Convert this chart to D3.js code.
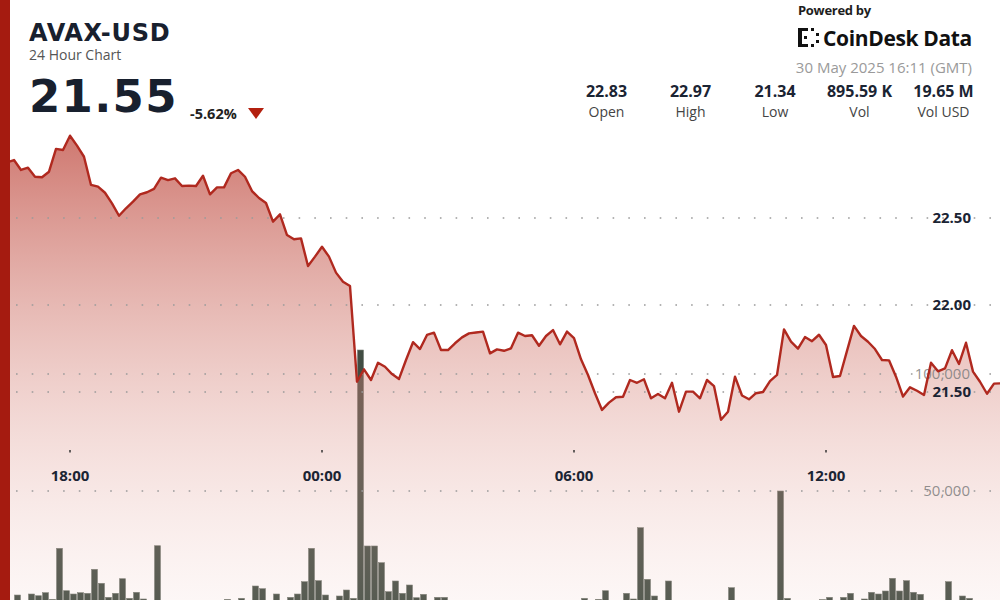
<!DOCTYPE html>
<html>
<head>
<meta charset="utf-8">
<script src="https://cdn.jsdelivr.net/npm/d3@7/dist/d3.min.js"></script>
<style>
  html, body { margin: 0; padding: 0; background: #fff; }
  svg { display: block; font-family: "Open Sans", "Noto Sans", sans-serif; }
</style>
</head>
<body>
<svg id="chart" width="1000" height="600"></svg>
<script>
// ---- Data (10-minute intervals, GMT) ----
const startTime = "2025-05-29T16:20:00Z";
const endTime = "2025-05-30T16:10:00Z";

const priceValues = [
  22.83, 22.82, 22.833, 22.776, 22.789, 22.737, 22.734, 22.766, 22.897, 22.891,
  22.973, 22.916, 22.852, 22.690, 22.680, 22.645, 22.584, 22.513, 22.556, 22.594,
  22.636, 22.648, 22.667, 22.732, 22.718, 22.728, 22.684, 22.686, 22.684, 22.743,
  22.636, 22.676, 22.676, 22.757, 22.776, 22.737, 22.655, 22.615, 22.586, 22.479,
  22.521, 22.402, 22.378, 22.383, 22.224, 22.278, 22.335, 22.278, 22.186, 22.134,
  22.109, 21.559, 21.630, 21.569, 21.668, 21.645, 21.603, 21.575, 21.684, 21.786,
  21.747, 21.828, 21.841, 21.741, 21.741, 21.780, 21.814, 21.837, 21.842, 21.847,
  21.722, 21.745, 21.737, 21.751, 21.841, 21.822, 21.826, 21.766, 21.822, 21.856,
  21.774, 21.847, 21.809, 21.688, 21.598, 21.493, 21.397, 21.439, 21.470, 21.473,
  21.569, 21.553, 21.573, 21.464, 21.489, 21.464, 21.553, 21.387, 21.502, 21.502,
  21.464, 21.569, 21.534, 21.340, 21.387, 21.588, 21.480, 21.458, 21.493, 21.500,
  21.563, 21.598, 21.860, 21.789, 21.749, 21.816, 21.792, 21.829, 21.770, 21.586,
  21.592, 21.736, 21.880, 21.822, 21.789, 21.747, 21.684, 21.682, 21.588, 21.474,
  21.527, 21.507, 21.483, 21.668, 21.619, 21.636, 21.740, 21.661, 21.783, 21.617,
  21.559, 21.490, 21.548, 21.550
];

const volumeValues = [
  2000, 1500, 5550, 2000, 5980, 5250, 6540, 3720, 25500, 7390,
  5980, 6540, 6280, 16540, 10560, 4570, 6280, 12520, 4150, 6710,
  3850, 1500, 26620, 1200, 2000, 1000, 1500, 2500, 1000, 1800,
  2200, 1500, 3700, 2000, 4150, 2500, 9400, 8250, 2000, 5980,
  2500, 4570, 5980, 11240, 25500, 11670, 5550, 3000, 5130, 7690,
  4150, 110250, 26500, 26500, 19360, 6970, 11540, 6280, 9830, 4400,
  5850, 2800, 4570, 4570, 3000, 2500, 1500, 2000, 1200, 2500,
  1000, 1800, 2200, 1500, 2600, 1200, 2000, 1000, 2400, 1500,
  2000, 1200, 2500, 4150, 2500, 3720, 7390, 2500, 3000, 6280,
  3850, 34320, 12260, 5130, 2800, 11540, 2000, 2500, 1500, 3000,
  2000, 1200, 2500, 1800, 8680, 2000, 1500, 2500, 1200, 2000,
  2200, 50000, 4150, 1500, 2000, 1200, 2500, 3600, 4570, 3000,
  4570, 6280, 3000, 3850, 6710, 5980, 7260, 12690, 7260, 11670,
  6710, 5850, 3000, 2500, 2000, 11240, 3000, 5130, 4150, 2000,
  1500, 2500, 2000, 1500
];

const priceTicks = [21.5, 22.0, 22.5];
const priceTickLabels = ["21.50", "22.00", "22.50"];
const volumeTicks = [50000, 100000];
const volumeTickLabels = ["50,000", "100,000"];

const title = "AVAX-USD";
const subtitle = "24 Hour Chart";
const lastPrice = "21.55";
const changePct = "-5.62%";
const statValues = ["22.83", "22.97", "21.34", "895.59 K", "19.65 M"];
const statLabels = ["Open", "High", "Low", "Vol", "Vol USD"];
const dateText = "30 May 2025 16:11 (GMT)";

// ---- Build ----
const svg = d3.select("#chart");
const W = 1000, H = 600;
const t0 = new Date(startTime), t1 = new Date(endTime);
const step = 10 * 60 * 1000;
const series = priceValues.map((p, i) => ({
  t: new Date(t0.getTime() + i * step), p: p, v: volumeValues[i]
}));

const x = d3.scaleUtc().domain([t0, t1]).range([0, 1001]);
const y = d3.scaleLinear().domain([21.5, 22.5]).range([392, 218]);
const yv = d3.scaleLinear().domain([0, 100000]).range([608, 374]);

const defs = svg.append("defs");
const grad = defs.append("linearGradient")
  .attr("id", "areaGrad").attr("gradientUnits", "userSpaceOnUse")
  .attr("x1", 0).attr("y1", 135).attr("x2", 0).attr("y2", 600);
grad.append("stop").attr("offset", "0%").attr("stop-color", "#b8382c").attr("stop-opacity", 0.68);
grad.append("stop").attr("offset", "60%").attr("stop-color", "#d88a80").attr("stop-opacity", 0.34);
grad.append("stop").attr("offset", "100%").attr("stop-color", "#eec0ba").attr("stop-opacity", 0.13);

// volume bars (beneath the translucent area)
svg.append("g").selectAll("rect").data(series).join("rect")
  .attr("x", d => x(d.t) + 0.5)
  .attr("width", 6)
  .attr("y", d => yv(d.v))
  .attr("height", d => Math.max(0, yv(0) - yv(d.v)))
  .attr("fill", "#414d43")
  .attr("stroke", "#767c73")
  .attr("stroke-width", 0.6);

// area
const area = d3.area().x(d => x(d.t)).y0(H + 10).y1(d => y(d.p)).curve(d3.curveLinear);
svg.append("path").datum(series).attr("d", area).attr("fill", "url(#areaGrad)");

// gridlines (dotted)
const gridYs = priceTicks.map(v => y(v)).concat(volumeTicks.map(v => yv(v)));
svg.append("g").selectAll("line").data(gridYs).join("line")
  .attr("x1", 16).attr("x2", 1000)
  .attr("y1", d => d).attr("y2", d => d)
  .attr("stroke", "#9a9a9a").attr("stroke-width", 1.6)
  .attr("stroke-dasharray", "1.6,14.1");

// volume labels (under the line)
svg.append("g").selectAll("text").data(volumeTicks).join("text")
  .attr("x", 970).attr("y", d => yv(d)).attr("dy", "0.36em")
  .attr("text-anchor", "end")
  .attr("font-size", 15).attr("fill", "#7d7d7d").attr("fill-opacity", 0.85)
  .text((d, i) => volumeTickLabels[i]);

// price line
const line = d3.line().x(d => x(d.t)).y(d => y(d.p));
svg.append("path").datum(series).attr("d", line)
  .attr("fill", "none").attr("stroke", "#b0291f").attr("stroke-width", 2.4)
  .attr("stroke-linejoin", "round");

// price labels
svg.append("g").selectAll("text").data(priceTicks).join("text")
  .attr("x", 971).attr("y", d => y(d)).attr("dy", "0.36em")
  .attr("text-anchor", "end")
  .attr("font-size", 15).attr("font-weight", 700).attr("fill", "#1b2433")
  .text((d, i) => priceTickLabels[i]);

// x axis
const xTicks = x.ticks(d3.utcHour.every(6));
const xg = svg.append("g");
xg.selectAll("line").data(xTicks).join("line")
  .attr("x1", d => x(d)).attr("x2", d => x(d))
  .attr("y1", 450).attr("y2", 452.5)
  .attr("stroke", "#333").attr("stroke-width", 1.5);
xg.selectAll("text").data(xTicks).join("text")
  .attr("x", d => x(d)).attr("y", 480.5)
  .attr("text-anchor", "middle")
  .attr("font-size", 15).attr("font-weight", 700).attr("fill", "#1b2433")
  .text(d => d3.utcFormat("%H:%M")(d));

// left red bar
svg.append("rect").attr("x", 0).attr("y", 0).attr("width", 10).attr("height", H).attr("fill", "#a51b10");

// header left
svg.append("text").attr("x", 29).attr("y", 40.5)
  .attr("font-family", "'DejaVu Sans', sans-serif")
  .attr("font-size", 24).attr("font-weight", 700).attr("fill", "#18202e")
  .attr("letter-spacing", 0.7).text(title);
svg.append("text").attr("x", 29).attr("y", 60)
  .attr("font-size", 14).attr("fill", "#555").text(subtitle);
svg.append("text").attr("x", 29).attr("y", 112)
  .attr("font-family", "'DejaVu Sans', sans-serif")
  .attr("font-size", 45).attr("font-weight", 700).attr("fill", "#18202e")
  .attr("letter-spacing", 1.3).text(lastPrice);
svg.append("text").attr("x", 190).attr("y", 119)
  .attr("font-size", 14.5).attr("font-weight", 700).attr("fill", "#222").text(changePct);
svg.append("path").attr("d", "M248,108 L264,108 L256,119 Z").attr("fill", "#b3200f");

// header right
svg.append("text").attr("x", 798).attr("y", 15)
  .attr("font-size", 13).attr("font-weight", 700).attr("fill", "#1e1e1e")
  .attr("letter-spacing", -0.3).text("Powered by");
const logo = svg.append("g").attr("fill", "#111");
[[798,28,4,19],[798,28,10,3],[798,44,10,3],[804,36,3,3],[811,28,3,3],[811,44,3,3],[816,33,3,3],[816,40,3,3]]
  .forEach(r => logo.append("rect").attr("x", r[0]).attr("y", r[1]).attr("width", r[2]).attr("height", r[3]));
svg.append("text").attr("x", 823).attr("y", 46)
  .attr("font-size", 21).attr("font-weight", 700).attr("fill", "#111")
  .attr("letter-spacing", -0.35).text("CoinDesk Data");
svg.append("text").attr("x", 972).attr("y", 73).attr("text-anchor", "end")
  .attr("font-size", 15).attr("fill", "#9a9a9a").text(dateText);

const statX = [606.5, 690.5, 775, 859.5, 943.5];
statValues.forEach((v, i) => {
  svg.append("text").attr("x", statX[i]).attr("y", 96.5).attr("text-anchor", "middle")
    .attr("font-size", 16).attr("font-weight", 700).attr("fill", "#1b2433").text(v);
  svg.append("text").attr("x", statX[i]).attr("y", 117).attr("text-anchor", "middle")
    .attr("font-size", 14).attr("fill", "#444").text(statLabels[i]);
});
</script>
</body>
</html>
